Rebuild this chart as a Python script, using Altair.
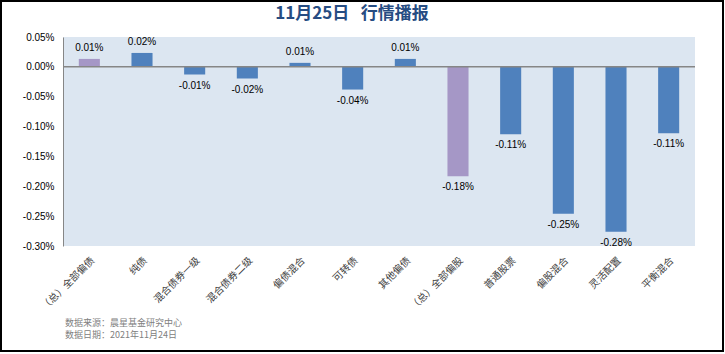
import altair as alt
import pandas as pd

categories = ["（总）全部偏债", "纯债", "混合债券一级", "混合债券二级", "偏债混合", "可转债",
              "其他偏债", "（总）全部偏股", "普通股票", "偏股混合", "灵活配置", "平衡混合"]
values = [0.000133, 0.000233, -0.000128, -0.000195, 0.000067, -0.00038,
          0.000133, -0.00183, -0.00113, -0.00246, -0.00276, -0.00111]
groups = ["总", "子", "子", "子", "子", "子", "子", "总", "子", "子", "子", "子"]
y_ticks = [0.0005, 0.0, -0.0005, -0.001, -0.0015, -0.002, -0.0025, -0.003]
title_text = "11月25日\u00a0\u00a0\u00a0行情播报"
footer_lines = ["数据来源：晨星基金研究中心", "数据日期：2021年11月24日"]

df = pd.DataFrame({"cat": categories, "val": values, "grp": groups})

W, H = 632, 209
CJK = "Noto Sans CJK SC"

y_scale = alt.Scale(domain=[-0.003, 0.0005], nice=False, zero=False)
x_scale = alt.Scale(paddingInner=0.6, paddingOuter=0.3)

y_axis = alt.Axis(values=y_ticks, format=".2%", grid=False, ticks=False,
                  domainColor="#868686", labelFont="Arial", labelFontSize=10,
                  labelColor="#000000", labelPadding=9, labelOverlap=False,
                  labelBound=False,
                  labelExpr="replace(datum.label, '\u2212', '-')")
x_axis = alt.Axis(labelAngle=-45, labelFont=CJK, labelFontSize=10,
                  labelColor="#404040", domain=False, ticks=False,
                  labelPadding=9, labelLimit=200, labelOverlap=False)

X = alt.X("cat:N", sort=categories, title=None, scale=x_scale, axis=x_axis)
Y = alt.Y("val:Q", title=None, scale=y_scale, axis=y_axis)

base = alt.Chart(df).transform_calculate(
    lab="replace(format(datum.val, '.2%'), '\u2212', '-')"
)

bars = base.mark_bar().encode(
    x=X, y=Y,
    color=alt.Color("grp:N", scale=alt.Scale(domain=["总", "子"], range=["#A597C6", "#4F81BD"]),
                    legend=None),
)

zero = alt.Chart(pd.DataFrame({"val": [0.0]})).mark_rule(color="#868686", strokeWidth=1.5).encode(
    y=Y
)

pos_labels = base.transform_filter("datum.val >= 0").mark_text(
    baseline="bottom", dy=-6, font="Arial", fontSize=10, color="#000000"
).encode(x=X, y=Y, text="lab:N")

neg_labels = base.transform_filter("datum.val < 0").mark_text(
    baseline="top", dy=6, font="Arial", fontSize=10, color="#000000"
).encode(x=X, y=Y, text="lab:N")

title = alt.Chart(pd.DataFrame({"t": [title_text]})).mark_text(
    align="center", baseline="middle", font=CJK, fontSize=17, fontWeight="bold", color="#264C82"
).encode(x=alt.value(289), y=alt.value(-23), text="t:N")

footer1 = alt.Chart(pd.DataFrame({"t": [footer_lines[0]]})).mark_text(
    align="left", baseline="middle", font=CJK, fontSize=9, color="#808080"
).encode(x=alt.value(2), y=alt.value(286), text="t:N")

footer2 = alt.Chart(pd.DataFrame({"t": [footer_lines[1]]})).mark_text(
    align="left", baseline="middle", font=CJK, fontSize=9, color="#808080"
).encode(x=alt.value(2), y=alt.value(298), text="t:N")

frame = alt.Chart(pd.DataFrame({"k": [1]})).mark_rect(
    fill=None, stroke="#000000", strokeWidth=2
).encode(
    x=alt.value(-62), x2=alt.value(W + 28),
    y=alt.value(-36), y2=alt.value(H + 105),
)

chart = alt.layer(bars, zero, pos_labels, neg_labels, title, footer1, footer2, frame).properties(
    width=W, height=H,
    autosize=alt.AutoSizeParams(type="none"),
    padding={"left": 63, "top": 37, "right": 30, "bottom": 108},
    background="#FFFFFF",
).configure_view(fill="#DCE6F1", stroke=None)

chart.save("out.html", embed_options={"renderer": "svg", "actions": False})
